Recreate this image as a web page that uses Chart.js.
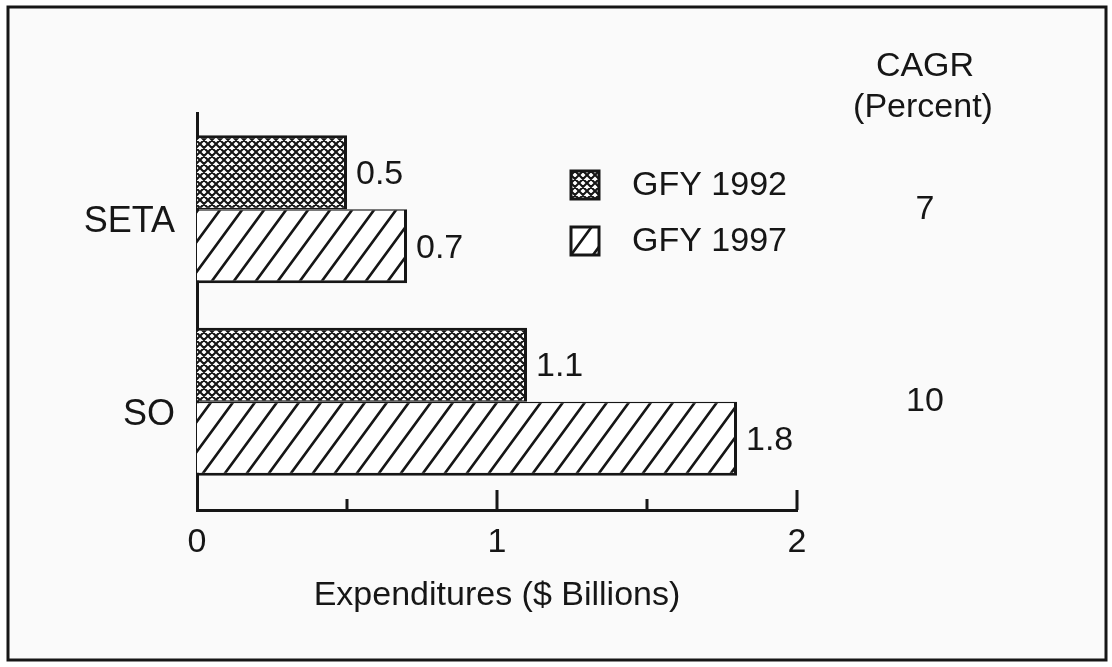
<!DOCTYPE html>
<html>
<head>
<meta charset="utf-8">
<script src="https://cdn.jsdelivr.net/npm/chart.js@4.4.1/dist/chart.umd.min.js"></script>
<style>
  body { margin: 0; background: #fff; }
  canvas { display: block; }
</style>
</head>
<body>
<canvas id="myChart" width="1112" height="667"></canvas>
<script>
'use strict';

// values
var categories = ['SETA', 'SO'];
var seriesLabels = ['GFY 1992', 'GFY 1997'];
var gfy1992 = [0.5, 1.1];
var gfy1997 = [0.7, 1.8];
var cagr = [7, 10];
var xTickValues = [0, 0.5, 1, 1.5, 2];
var xTickLabels = ['0', '', '1', '', '2'];

var INK = '#161616';
var FONT = "'Liberation Sans', Arial, Helvetica, sans-serif";

Chart.defaults.font.family = FONT;
Chart.defaults.font.size = 34;
Chart.defaults.color = INK;

function crossHatch() {
    var c = document.createElement('canvas');
    c.width = 8; c.height = 8;
    var g = c.getContext('2d');
    g.fillStyle = '#fff';
    g.fillRect(0, 0, 8, 8);
    g.strokeStyle = INK;
    g.lineWidth = 2.1;
    g.beginPath();
    for (var o = -8; o <= 8; o += 8) {
        g.moveTo(o - 1, -1); g.lineTo(o + 9, 9);
        g.moveTo(o - 1, 9); g.lineTo(o + 9, -1);
    }
    g.stroke();
    return g.createPattern(c, 'repeat');
}

function diagHatch() {
    var w = 22, h = 30;
    var c = document.createElement('canvas');
    c.width = w; c.height = h;
    var g = c.getContext('2d');
    g.fillStyle = '#fff';
    g.fillRect(0, 0, w, h);
    g.strokeStyle = INK;
    g.lineWidth = 2.6;
    g.beginPath();
    for (var o = -w; o <= w; o += w) {
        g.moveTo(o - 0.2 * w, h + 0.2 * h);
        g.lineTo(o + 1.2 * w, -0.2 * h);
    }
    g.stroke();
    return g.createPattern(c, 'repeat');
}

var patterns = [crossHatch(), diagHatch()];

var framePlugin = {
    id: 'frame',
    beforeDraw: function (chart) {
        var ctx = chart.ctx;
        ctx.save();
        ctx.fillStyle = '#fafafa';
        ctx.fillRect(8, 7, 1098, 653);
        ctx.strokeStyle = INK;
        ctx.lineWidth = 3;
        ctx.strokeRect(8, 7, 1098, 653);
        ctx.restore();
    }
};

var notesPlugin = {
    id: 'notes',
    afterDraw: function (chart) {
        var ctx = chart.ctx;
        var xs = chart.scales.x, ys = chart.scales.y;
        ctx.save();
        ctx.font = '34px ' + FONT;
        ctx.fillStyle = INK;
        ctx.strokeStyle = INK;

        // tick marks pointing up from the axis
        ctx.lineWidth = 3;
        xs.ticks.forEach(function (t) {
            if (t.value === 0) return;
            var px = xs.getPixelForValue(t.value);
            var len = Number.isInteger(t.value) ? 20 : 11;
            ctx.beginPath();
            ctx.moveTo(px, xs.top);
            ctx.lineTo(px, xs.top - len);
            ctx.stroke();
        });

        // value labels at the end of the bars
        ctx.textAlign = 'left';
        ctx.textBaseline = 'middle';
        chart.data.datasets.forEach(function (ds, di) {
            chart.getDatasetMeta(di).data.forEach(function (bar, i) {
                ctx.fillText(ds.data[i].x.toFixed(1), bar.x + 9, bar.y + 2);
            });
        });

        // legend
        chart.data.datasets.forEach(function (ds, di) {
            var cy = 185 + di * 56;
            ctx.save();
            ctx.translate(571, cy + 14);
            ctx.fillStyle = ds.backgroundColor;
            ctx.fillRect(0, -28, 28, 28);
            ctx.lineWidth = 3;
            ctx.strokeRect(0, -28, 28, 28);
            ctx.restore();
            ctx.fillText(ds.label, 632, cy + 1);
        });

        // CAGR column
        ctx.textAlign = 'center';
        ctx.fillText('CAGR', 925, 67);
        ctx.fillText('(Percent)', 923, 108);
        cagr.forEach(function (v, i) {
            ctx.fillText(String(v), 925, ys.getPixelForValue(i));
        });
        ctx.restore();
    }
};

var ctx = document.getElementById('myChart');
var myChart = new Chart(ctx, {
    type: 'bar',
    data: {
        datasets: [
            {
                label: seriesLabels[0],
                data: categories.map(function (c, i) { return { x: gfy1992[i], y: i }; }),
                backgroundColor: patterns[0],
                borderColor: INK,
                borderWidth: { top: 3, right: 3, bottom: 1.5, left: 0 },
                borderSkipped: false
            },
            {
                label: seriesLabels[1],
                data: categories.map(function (c, i) { return { x: gfy1997[i], y: i }; }),
                backgroundColor: patterns[1],
                borderColor: INK,
                borderWidth: { top: 1.5, right: 3, bottom: 3, left: 0 },
                borderSkipped: false
            }
        ]
    },
    options: {
        indexAxis: 'y',
        responsive: false,
        animation: false,
        datasets: { bar: { categoryPercentage: 0.769, barPercentage: 1 } },
        layout: { padding: { top: 113, right: 315, bottom: 0, left: 0 } },
        plugins: { legend: { display: false }, tooltip: { enabled: false } },
        scales: {
            x: {
                type: 'linear',
                position: 'bottom',
                min: 0,
                max: 2,
                grid: { display: false },
                border: { color: INK, width: 3 },
                afterBuildTicks: function (s) {
                    s.ticks = xTickValues.map(function (v) { return { value: v }; });
                },
                ticks: {
                    padding: 4,
                    maxRotation: 0,
                    autoSkip: false,
                    callback: function (v, i) { return xTickLabels[i]; }
                },
                title: {
                    display: true,
                    text: 'Expenditures ($ Billions)',
                    padding: { top: 0, bottom: 51 }
                },
                afterFit: function (s) { s.height = 157; }
            },
            y: {
                type: 'linear',
                reverse: true,
                offset: false,
                min: -0.5,
                max: 1.562,
                grid: { display: false },
                border: { color: INK, width: 3 },
                afterBuildTicks: function (s) {
                    s.ticks = categories.map(function (c, i) { return { value: i }; });
                },
                ticks: {
                    padding: 14,
                    labelOffset: 13,
                    font: { size: 36 },
                    callback: function (v, i) { return categories[i]; }
                },
                afterFit: function (s) { s.width = 197; }
            }
        }
    },
    plugins: [framePlugin, notesPlugin]
});
</script>
</body>
</html>
